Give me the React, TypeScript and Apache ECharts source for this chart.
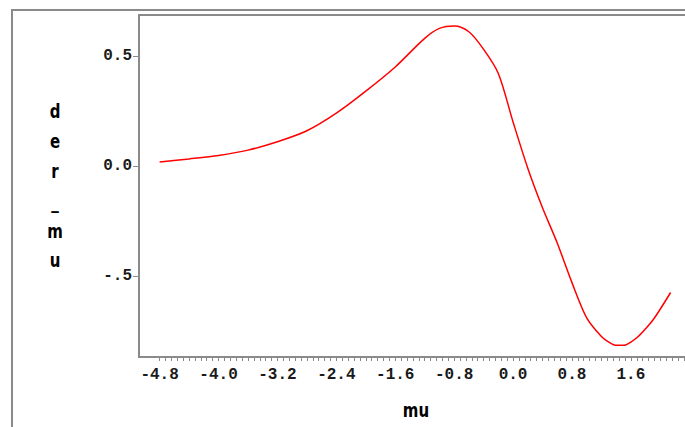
import React, { useEffect, useRef } from "react";
import * as echarts from "echarts";

const muValues = [-4.8, -4.4, -4.0, -3.6, -3.2, -2.8, -2.4, -2.0, -1.6, -1.2, -1.0, -0.8, -0.6, -0.4, -0.2, 0.0, 0.2, 0.4, 0.6, 0.8, 1.0, 1.2, 1.3, 1.4, 1.5, 1.6, 1.7, 1.8, 1.9, 2.0, 2.14];
const derMuValues = [0.018, 0.032, 0.048, 0.072, 0.11, 0.16, 0.24, 0.34, 0.45, 0.58, 0.625, 0.636, 0.61, 0.53, 0.42, 0.2, -0.01, -0.19, -0.35, -0.53, -0.69, -0.775, -0.80, -0.815, -0.815, -0.80, -0.775, -0.74, -0.70, -0.65, -0.575];
const xTickLabels = [-4.8, -4.0, -3.2, -2.4, -1.6, -0.8, 0.0, 0.8, 1.6];
const yTickLabels = [-0.5, 0.0, 0.5];
const xMinorTickStep = 0.08;

const xTitle = "mu";
const yTitle = "der_mu";

export default function App() {
  const ref = useRef<HTMLDivElement>(null);

  useEffect(() => {
    if (!ref.current) return;
    const chart = echarts.init(ref.current, null, { renderer: "svg" });

    const minorTicks: number[] = [];
    for (let i = 0; i <= 100; i++) {
      minorTicks.push(Math.round((xTickLabels[0] + i * xMinorTickStep) * 100) / 100);
    }
    const data = muValues.map((m, i) => [m, derMuValues[i]]);
    const gray = "#8a8a8a";
    const labelFont = {
      fontFamily: "Liberation Mono",
      fontWeight: "bold" as const,
      fontSize: 16,
      color: "#1a1a1a",
    };

    chart.setOption({
      animation: false,
      backgroundColor: "#ffffff",
      grid: {
        left: 139,
        top: 15,
        right: 15,
        bottom: 70,
        show: true,
        borderColor: gray,
        borderWidth: 2,
        containLabel: false,
      },
      xAxis: {
        type: "value",
        min: -5.08,
        max: 3.15,
        axisLine: { show: true, onZero: false, lineStyle: { color: gray, width: 2 } },
        axisTick: {
          show: true,
          customValues: minorTicks,
          length: 4,
          lineStyle: { color: gray, width: 1 },
        },
        axisLabel: {
          customValues: xTickLabels,
          formatter: (v: number) => v.toFixed(1),
          margin: 10,
          ...labelFont,
        },
        splitLine: { show: false },
      },
      yAxis: {
        type: "value",
        min: -0.868,
        max: 0.686,
        axisLine: { show: true, onZero: false, lineStyle: { color: gray, width: 2 } },
        axisTick: {
          show: true,
          customValues: yTickLabels,
          length: 6,
          lineStyle: { color: gray, width: 1 },
        },
        axisLabel: {
          customValues: yTickLabels,
          formatter: (v: number) => v.toFixed(1).replace(/^-0\./, "-."),
          margin: 7,
          ...labelFont,
        },
        splitLine: { show: false },
      },
      graphic: [
        {
          type: "rect",
          shape: { x: 12, y: 10, width: 800, height: 600 },
          style: { fill: "none", stroke: gray, lineWidth: 2 },
          silent: true,
        },
        {
          type: "text",
          x: 55,
          y: 186,
          scaleY: 1.3,
          style: {
            text: yTitle.split("").join("\n"),
            font: "bold 15px 'DejaVu Sans'",
            fill: "#000",
            textAlign: "center",
            textVerticalAlign: "middle",
            lineHeight: 23,
          },
        },
        {
          type: "text",
          x: 416,
          y: 410,
          scaleY: 1.3,
          style: {
            text: xTitle,
            font: "bold 15px 'DejaVu Sans'",
            fill: "#000",
            textAlign: "center",
            textVerticalAlign: "middle",
          },
        },
      ],
      series: [
        {
          type: "line",
          data,
          showSymbol: false,
          smooth: 0.3,
          lineStyle: { color: "#ff0000", width: 1.5 },
        },
      ],
    });

    return () => chart.dispose();
  }, []);

  return (
    <div
      style={{
        position: "fixed",
        left: 0,
        top: 0,
        width: 685,
        height: 427,
        overflow: "hidden",
        background: "#fff",
      }}
    >
      <div ref={ref} style={{ width: 760, height: 427 }} />
    </div>
  );
}
